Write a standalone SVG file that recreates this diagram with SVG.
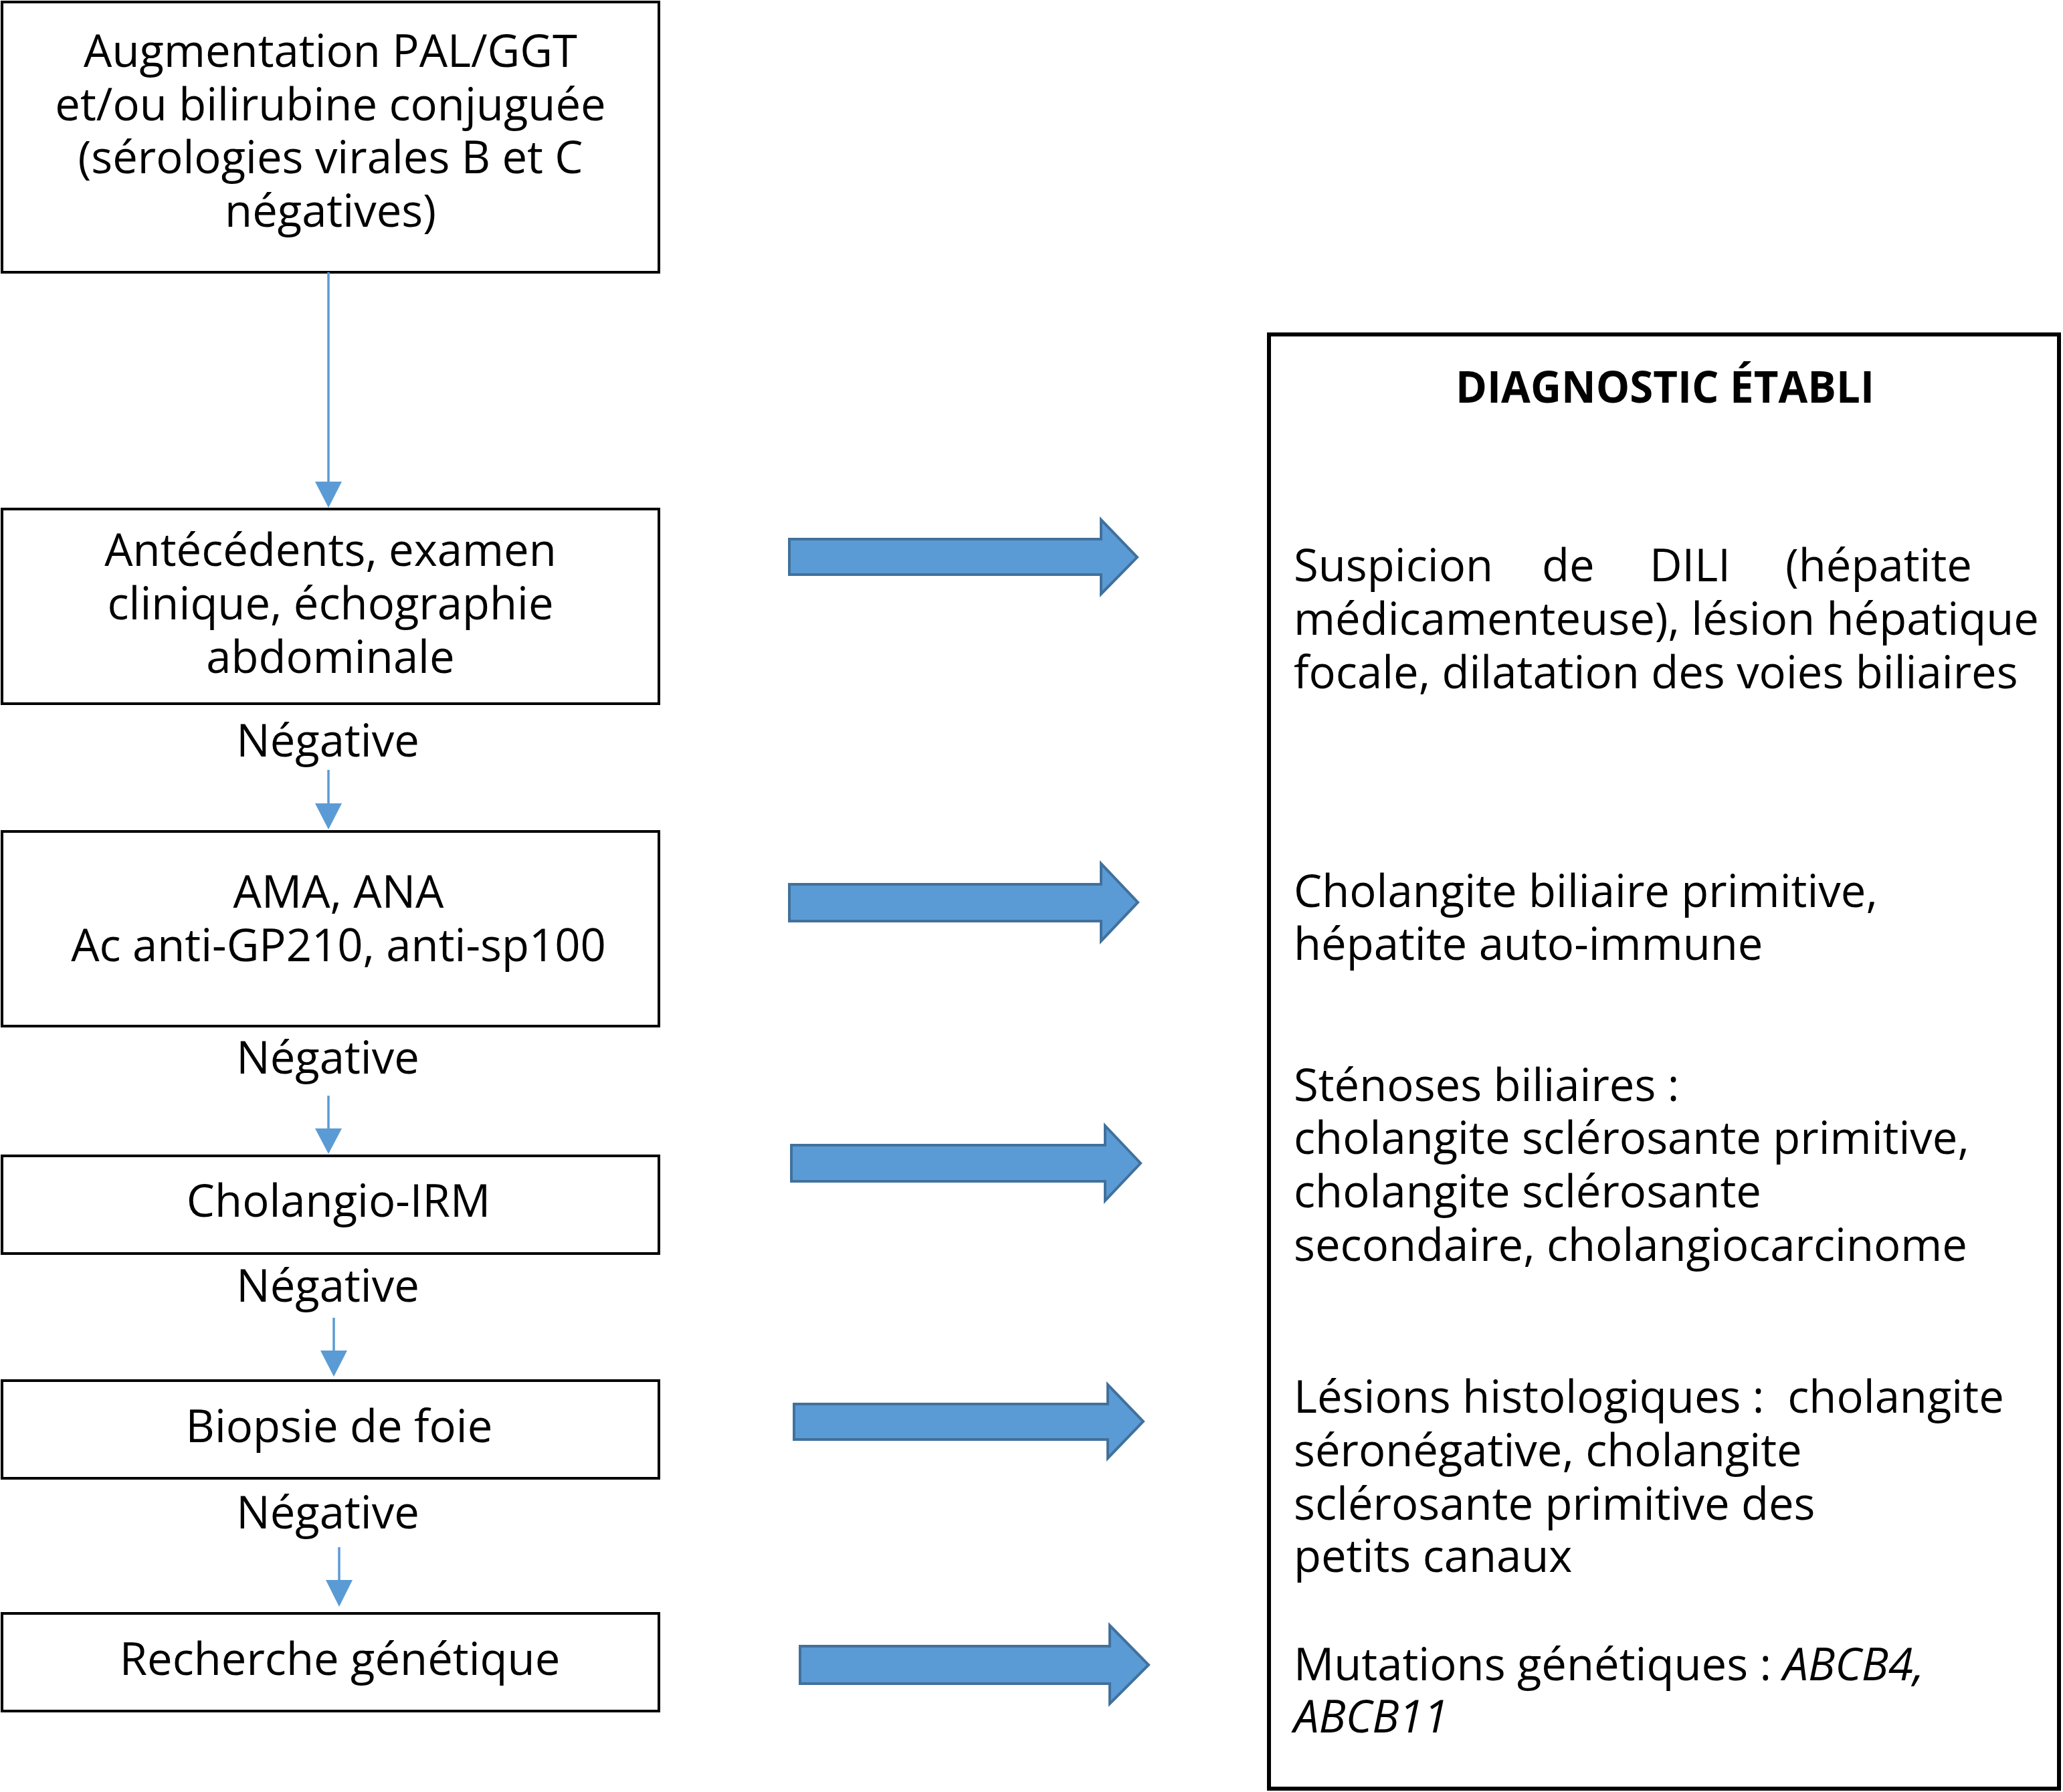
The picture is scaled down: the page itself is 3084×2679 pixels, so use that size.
<svg xmlns="http://www.w3.org/2000/svg" width="3084" height="2679" viewBox="0 0 3084 2679">
<style>
.box{fill:#fff;stroke:#000;stroke-width:4}
.big{fill:#fff;stroke:#000;stroke-width:6}
.t{font-family:"Open Sans","Noto Sans",sans-serif;font-size:67px;fill:#000}
.c{text-anchor:middle}
.b{font-weight:bold}
.i{font-style:italic}
.ln{stroke:#5B9BD5;stroke-width:3.5;fill:none}
.hd{fill:#5B9BD5}
.blk{fill:#5B9BD5;stroke:#41719C;stroke-width:4;stroke-linejoin:miter}
</style>
<rect width="3084" height="2679" fill="#fff"/>
<g id="n1">
<rect class="box" x="3" y="3" width="982" height="404"/>
<text class="t c" x="494" y="100">Augmentation PAL/GGT</text>
<text class="t c" x="494" y="180">et/ou bilirubine conjuguée</text>
<text class="t c" x="494" y="259">(sérologies virales B et C</text>
<text class="t c" x="494" y="339">négatives)</text>
</g>
<g id="n2">
<rect class="box" x="3" y="761" width="982" height="291"/>
<text class="t c" x="494" y="846">Antécédents, examen</text>
<text class="t c" x="494" y="926">clinique, échographie</text>
<text class="t c" x="494" y="1006">abdominale</text>
</g>
<g id="n3">
<rect class="box" x="3" y="1243" width="982" height="291"/>
<text class="t c" x="506" y="1357">AMA, ANA</text>
<text class="t c" x="506" y="1437">Ac anti-GP210, anti-sp100</text>
</g>
<g id="n4">
<rect class="box" x="3" y="1728" width="982" height="146"/>
<text class="t c" x="506" y="1819">Cholangio-IRM</text>
</g>
<g id="n5">
<rect class="box" x="3" y="2064" width="982" height="146"/>
<text class="t c" x="507" y="2156">Biopsie de foie</text>
</g>
<g id="n6">
<rect class="box" x="3" y="2412" width="982" height="146"/>
<text class="t c" x="508" y="2504">Recherche génétique</text>
</g>
<g id="labels">
<text class="t c" x="490" y="1131">Négative</text>
<text class="t c" x="490" y="1605">Négative</text>
<text class="t c" x="490" y="1946">Négative</text>
<text class="t c" x="490" y="2285">Négative</text>
</g>
<g id="result">
<rect class="big" x="1897" y="500" width="1181" height="2174"/>
<text class="t c b" x="2489" y="602" textLength="626" lengthAdjust="spacingAndGlyphs">DIAGNOSTIC ÉTABLI</text>
<text class="t" y="869"><tspan x="1934">Suspicion</tspan><tspan x="2305">de</tspan><tspan x="2466">DILI</tspan><tspan x="2669">(hépatite</tspan></text>
<text class="t" x="1934" y="949">médicamenteuse), lésion hépatique</text>
<text class="t" x="1934" y="1029">focale, dilatation des voies biliaires</text>
<text class="t" x="1934" y="1356">Cholangite biliaire primitive,</text>
<text class="t" x="1934" y="1435">hépatite auto-immune</text>
<text class="t" x="1934" y="1646">Sténoses biliaires :</text>
<text class="t" x="1934" y="1725">cholangite sclérosante primitive,</text>
<text class="t" x="1934" y="1805">cholangite sclérosante</text>
<text class="t" x="1934" y="1885">secondaire, cholangiocarcinome</text>
<text class="t" x="1934" y="2112" xml:space="preserve">Lésions histologiques :  cholangite</text>
<text class="t" x="1934" y="2192">séronégative, cholangite</text>
<text class="t" x="1934" y="2272">sclérosante primitive des</text>
<text class="t" x="1934" y="2350">petits canaux</text>
<text class="t" x="1934" y="2512">Mutations génétiques : <tspan class="i">ABCB4,</tspan></text>
<text class="t i" x="1934" y="2590">ABCB11</text>
</g>
<g id="connectors">
<line class="ln" x1="491" y1="407" x2="491" y2="722"/>
<polygon class="hd" points="471,720 511,720 491,759"/>
<line class="ln" x1="491" y1="1151" x2="491" y2="1203"/>
<polygon class="hd" points="471,1201 511,1201 491,1240"/>
<line class="ln" x1="491" y1="1638" x2="491" y2="1689"/>
<polygon class="hd" points="471,1687 511,1687 491,1725"/>
<line class="ln" x1="499" y1="1970" x2="499" y2="2021"/>
<polygon class="hd" points="479,2019 519,2019 499,2058"/>
<line class="ln" x1="507" y1="2313" x2="507" y2="2364"/>
<polygon class="hd" points="487,2362 527,2362 507,2402"/>
<polygon class="blk" points="1180,806 1646,806 1646,777 1700,833 1646,888 1646,859 1180,859"/>
<polygon class="blk" points="1180,1322 1646,1322 1646,1291 1701,1349 1646,1407 1646,1377 1180,1377"/>
<polygon class="blk" points="1183,1712 1652,1712 1652,1683 1705,1739 1652,1795 1652,1766 1183,1766"/>
<polygon class="blk" points="1187,2099 1656,2099 1656,2070 1709,2125 1656,2180 1656,2152 1187,2152"/>
<polygon class="blk" points="1196,2461 1659,2461 1659,2430 1717,2489 1659,2547 1659,2517 1196,2517"/>
</g>
</svg>
